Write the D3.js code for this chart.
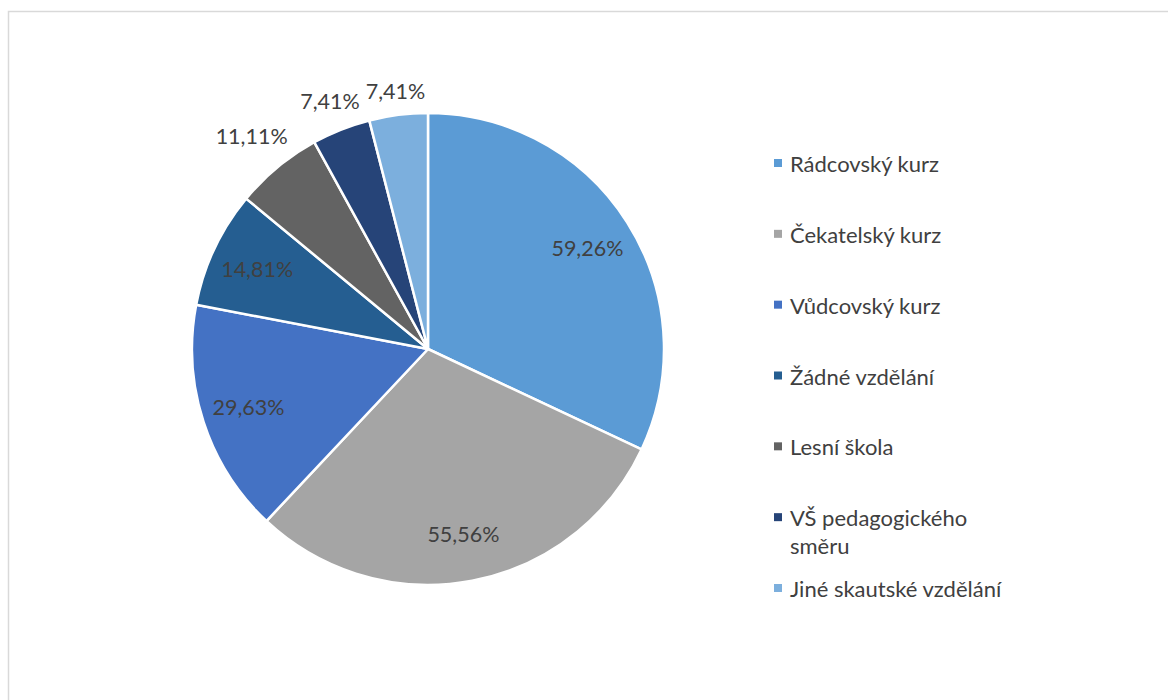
<!DOCTYPE html>
<html><head><meta charset="utf-8">
<script src="https://cdn.jsdelivr.net/npm/d3@7"></script>
<style>html,body{margin:0;padding:0;background:#fff;}svg{display:block;}</style>
</head><body>
<svg id="chart" width="1168" height="700"></svg>
<script>
const categories = ["Rádcovský kurz","Čekatelský kurz","Vůdcovský kurz","Žádné vzdělání","Lesní škola","VŠ pedagogického směru","Jiné skautské vzdělání"];
const values = [59.26, 55.56, 29.63, 14.81, 11.11, 7.41, 7.41];
const labels = ["59,26%","55,56%","29,63%","14,81%","11,11%","7,41%","7,41%"];
const legendLines = [["Rádcovský kurz"],["Čekatelský kurz"],["Vůdcovský kurz"],["Žádné vzdělání"],["Lesní škola"],["VŠ pedagogického","směru"],["Jiné skautské vzdělání"]];
const colors = ["#5B9BD5","#A5A5A5","#4472C4","#255E91","#636363","#264478","#7CAFDD"];

const svg = d3.select("#chart");
const font = "Lato, 'Open Sans', sans-serif";
const textColor = "#404040";

svg.append("rect").attr("x",8.5).attr("y",11.5).attr("width",1170).attr("height",700)
  .attr("fill","#fff").attr("stroke","#d9d9d9").attr("stroke-width",1.5);

const cx = 428, cy = 349, R = 236;
const g = svg.append("g").attr("transform",`translate(${cx},${cy})`);
const pie = d3.pie().sort(null).value(d=>d)(values);
const arc = d3.arc().innerRadius(0).outerRadius(R);

g.selectAll("path").data(pie).join("path")
  .attr("d",arc).attr("fill",(d,i)=>colors[i])
  .attr("stroke","#fff").attr("stroke-width",2.5).attr("stroke-linejoin","round");

const fsLab = 21.5, fsLeg = 22;
const lab = g.selectAll("text.lab").data(pie).join("text")
  .attr("class","lab")
  .attr("font-family",font).attr("font-size",fsLab).attr("fill",textColor)
  .attr("text-anchor","middle").attr("dominant-baseline","central")
  .text((d,i)=>labels[i]);
lab.each(function(d,i){
  const a = (d.startAngle+d.endAngle)/2;
  const frac = (d.endAngle-d.startAngle)/(2*Math.PI);
  let r;
  if (frac > 0.07) {
    r = R*0.8;
  } else {
    const w = this.getComputedTextLength();
    r = R + 10 + (w/2)*Math.abs(Math.sin(a)) + 10*Math.abs(Math.cos(a));
  }
  d3.select(this).attr("x", r*Math.sin(a)).attr("y", -r*Math.cos(a));
});

const ly = d3.scalePoint().domain(categories).range([163, 588]);
const leg = svg.append("g");
categories.forEach((c,i)=>{
  const y = ly(c);
  leg.append("rect").attr("x",774).attr("y",y-4).attr("width",8).attr("height",8).attr("fill",colors[i]);
  const t = leg.append("text").attr("x",790).attr("y",y).attr("font-family",font).attr("font-size",fsLeg)
    .attr("fill",textColor).attr("dominant-baseline","central");
  legendLines[i].forEach((ln,j)=>{
    t.append("tspan").attr("x",790).attr("dy", j===0?0:28).text(ln);
  });
});
</script>
</body></html>
